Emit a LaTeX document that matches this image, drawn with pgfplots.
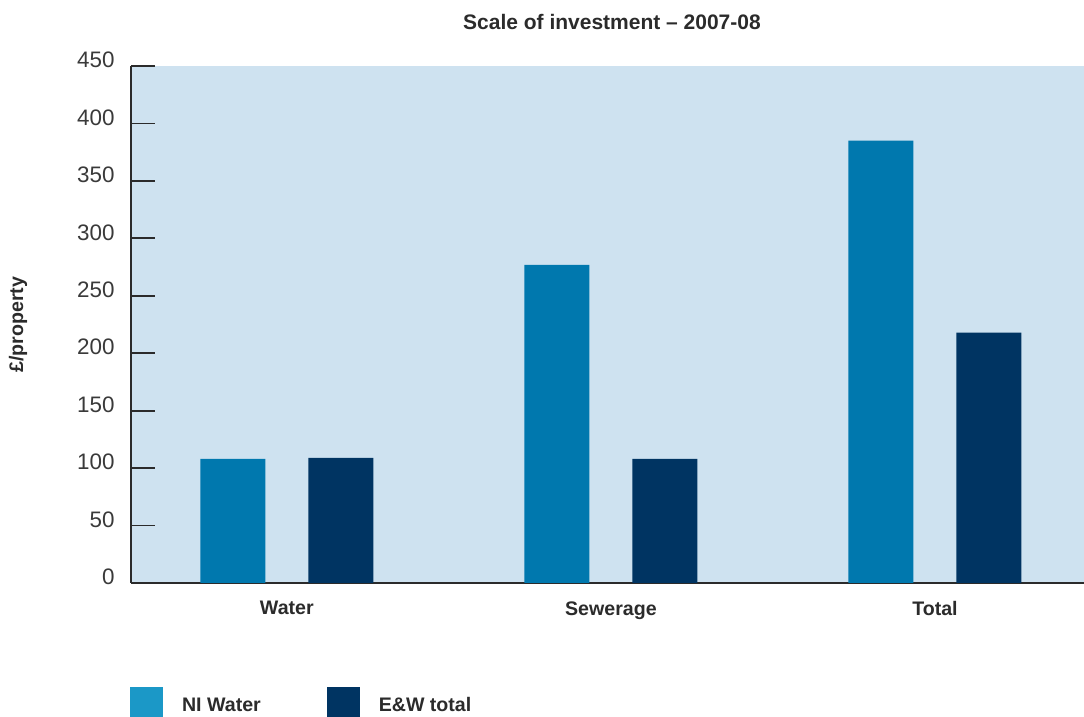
\documentclass[border=0pt]{standalone}
\usepackage{fontspec}
\setmainfont{Liberation Sans}
\usepackage{pgfplots}
\pgfplotsset{compat=1.18}

\definecolor{niwater}{HTML}{0078AE}
\definecolor{niwaterkey}{HTML}{1B98C7}
\definecolor{ewtotal}{HTML}{003462}
\definecolor{plotbg}{HTML}{CEE2F0}
\definecolor{axisdark}{HTML}{2B2B2B}
\definecolor{ticktext}{HTML}{3A3A3A}

\begin{document}
\begin{tikzpicture}
  \path[use as bounding box] (0,0) rectangle (542pt,358.5pt);
  \begin{axis}[
    at={(65.5pt,67pt)},
    anchor=south west,
    scale only axis,
    width=476.5pt,
    height=258.5pt,
    ymin=0, ymax=450,
    xmin=-0.481, xmax=2.46,
    ytick={0,50,...,450},
    xtick={0,1,2},
    xticklabels={Water,Sewerage,Total},
    axis x line=bottom,
    axis y line=left,
    axis line style={-},
    x axis line style={line width=0.9pt, draw=axisdark},
    y axis line style={line width=1.4pt, draw=axisdark},
    tick align=inside,
    major tick length=12pt,
    ytick style={line width=0.9pt, draw=axisdark},
    xtick style={draw=none},
    axis background/.style={fill=plotbg},
    /pgf/number format/assume math mode=true,
    yticklabel style={font=\fontsize{11.2}{13}\selectfont, text=ticktext,
      anchor=east, inner sep=0pt, xshift=-8pt, yshift=3pt},
    xticklabel style={font=\fontsize{9.8}{12}\selectfont\bfseries, text=axisdark,
      anchor=north, inner sep=0pt, yshift=-9pt},
    ylabel={£/property},
    ylabel style={at={(axis description cs:-0.1186,0.5)}, anchor=center,
      font=\fontsize{9.8}{12}\selectfont\bfseries, text=axisdark},
    title={Scale of investment – 2007-08},
    title style={at={(axis description cs:0.5047,1.062)}, anchor=center,
      font=\fontsize{10.5}{12}\selectfont\bfseries, text=axisdark},
    legend columns=2,
    legend style={at={(axis description cs:-0.001,-0.259)}, anchor=south west,
      draw=none, fill=none, inner sep=0pt, outer sep=0pt,
      nodes={inner sep=0pt, font=\fontsize{9.8}{12}\selectfont\bfseries, text=axisdark},
      /tikz/every odd column/.append style={column sep=9.5pt},
      /tikz/every even column/.append style={column sep=33pt}},
    legend image code/.code={\fill[#1] (0pt,-5.5pt) rectangle (16.5pt,9.5pt);},
  ]
    \addplot[ybar, bar width=32.5pt, bar shift=-27pt, fill=niwater, draw=none, forget plot]
      coordinates {(0,108) (1,277) (2,385)};
    \addplot[ybar, bar width=32.5pt, bar shift=27pt, fill=ewtotal, draw=none, forget plot]
      coordinates {(0,109) (1,108) (2,218)};
    \addlegendimage{fill=niwaterkey, draw=none}
    \addlegendentry{NI Water}
    \addlegendimage{fill=ewtotal, draw=none}
    \addlegendentry{E\&W total}
  \end{axis}
\end{tikzpicture}
\end{document}
